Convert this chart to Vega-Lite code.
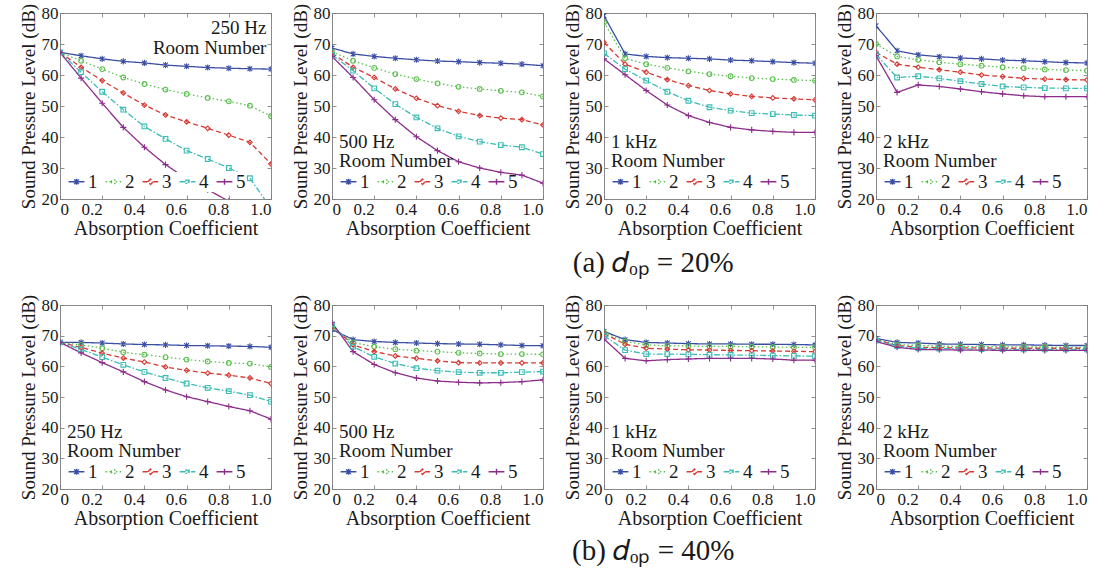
{
  "$schema": "https://vega.github.io/schema/vega-lite/v6.json",
  "background": "white",
  "padding": {"left": 18, "top": 2, "right": 2, "bottom": 2},
  "datasets": {
    "a250": [
      {"room":"1","alpha":0,"spl":67.3},{"room":"1","alpha":0.1,"spl":66.2},{"room":"1","alpha":0.2,"spl":65.2},{"room":"1","alpha":0.3,"spl":64.4},{"room":"1","alpha":0.4,"spl":63.9},{"room":"1","alpha":0.5,"spl":63.2},{"room":"1","alpha":0.6,"spl":62.8},{"room":"1","alpha":0.7,"spl":62.4},{"room":"1","alpha":0.8,"spl":62.2},{"room":"1","alpha":0.9,"spl":62.0},{"room":"1","alpha":1,"spl":61.9},
      {"room":"2","alpha":0,"spl":67.3},{"room":"2","alpha":0.1,"spl":64.6},{"room":"2","alpha":0.2,"spl":61.9},{"room":"2","alpha":0.3,"spl":59.2},{"room":"2","alpha":0.4,"spl":57.1},{"room":"2","alpha":0.5,"spl":55.3},{"room":"2","alpha":0.6,"spl":53.9},{"room":"2","alpha":0.7,"spl":52.6},{"room":"2","alpha":0.8,"spl":51.5},{"room":"2","alpha":0.9,"spl":50.1},{"room":"2","alpha":1,"spl":46.7},
      {"room":"3","alpha":0,"spl":67.3},{"room":"3","alpha":0.1,"spl":62.5},{"room":"3","alpha":0.2,"spl":58.2},{"room":"3","alpha":0.3,"spl":54.2},{"room":"3","alpha":0.4,"spl":50.3},{"room":"3","alpha":0.5,"spl":47.1},{"room":"3","alpha":0.6,"spl":44.9},{"room":"3","alpha":0.7,"spl":42.8},{"room":"3","alpha":0.8,"spl":40.6},{"room":"3","alpha":0.9,"spl":38.3},{"room":"3","alpha":1,"spl":31.3},
      {"room":"4","alpha":0,"spl":67.3},{"room":"4","alpha":0.1,"spl":60.9},{"room":"4","alpha":0.2,"spl":54.6},{"room":"4","alpha":0.3,"spl":48.8},{"room":"4","alpha":0.4,"spl":43.4},{"room":"4","alpha":0.5,"spl":39.4},{"room":"4","alpha":0.6,"spl":35.6},{"room":"4","alpha":0.7,"spl":32.9},{"room":"4","alpha":0.8,"spl":30.0},{"room":"4","alpha":0.9,"spl":26.7},{"room":"4","alpha":1,"spl":17.0},
      {"room":"5","alpha":0,"spl":67.3},{"room":"5","alpha":0.1,"spl":59.0},{"room":"5","alpha":0.2,"spl":50.9},{"room":"5","alpha":0.3,"spl":43.1},{"room":"5","alpha":0.4,"spl":36.7},{"room":"5","alpha":0.5,"spl":31.1},{"room":"5","alpha":0.6,"spl":26.5},{"room":"5","alpha":0.7,"spl":23.0},{"room":"5","alpha":0.8,"spl":19.3}
    ],
    "a500": [
      {"room":"1","alpha":0,"spl":68.7},{"room":"1","alpha":0.1,"spl":66.8},{"room":"1","alpha":0.2,"spl":66.0},{"room":"1","alpha":0.3,"spl":65.4},{"room":"1","alpha":0.4,"spl":64.9},{"room":"1","alpha":0.5,"spl":64.5},{"room":"1","alpha":0.6,"spl":64.3},{"room":"1","alpha":0.7,"spl":64.0},{"room":"1","alpha":0.8,"spl":63.8},{"room":"1","alpha":0.9,"spl":63.5},{"room":"1","alpha":1,"spl":63.0},
      {"room":"2","alpha":0,"spl":67.5},{"room":"2","alpha":0.1,"spl":64.6},{"room":"2","alpha":0.2,"spl":62.3},{"room":"2","alpha":0.3,"spl":60.3},{"room":"2","alpha":0.4,"spl":58.7},{"room":"2","alpha":0.5,"spl":57.3},{"room":"2","alpha":0.6,"spl":56.2},{"room":"2","alpha":0.7,"spl":55.5},{"room":"2","alpha":0.8,"spl":54.9},{"room":"2","alpha":0.9,"spl":54.4},{"room":"2","alpha":1,"spl":53.1},
      {"room":"3","alpha":0,"spl":67.0},{"room":"3","alpha":0.1,"spl":62.5},{"room":"3","alpha":0.2,"spl":59.2},{"room":"3","alpha":0.3,"spl":55.5},{"room":"3","alpha":0.4,"spl":52.5},{"room":"3","alpha":0.5,"spl":50.1},{"room":"3","alpha":0.6,"spl":48.3},{"room":"3","alpha":0.7,"spl":46.9},{"room":"3","alpha":0.8,"spl":46.1},{"room":"3","alpha":0.9,"spl":45.6},{"room":"3","alpha":1,"spl":43.9},
      {"room":"4","alpha":0,"spl":66.5},{"room":"4","alpha":0.1,"spl":61.4},{"room":"4","alpha":0.2,"spl":55.7},{"room":"4","alpha":0.3,"spl":50.6},{"room":"4","alpha":0.4,"spl":46.3},{"room":"4","alpha":0.5,"spl":42.8},{"room":"4","alpha":0.6,"spl":40.2},{"room":"4","alpha":0.7,"spl":38.5},{"room":"4","alpha":0.8,"spl":37.4},{"room":"4","alpha":0.9,"spl":36.7},{"room":"4","alpha":1,"spl":34.5},
      {"room":"5","alpha":0,"spl":66.0},{"room":"5","alpha":0.1,"spl":59.2},{"room":"5","alpha":0.2,"spl":52.0},{"room":"5","alpha":0.3,"spl":45.6},{"room":"5","alpha":0.4,"spl":40.1},{"room":"5","alpha":0.5,"spl":35.6},{"room":"5","alpha":0.6,"spl":32.0},{"room":"5","alpha":0.7,"spl":30.0},{"room":"5","alpha":0.8,"spl":28.6},{"room":"5","alpha":0.9,"spl":27.7},{"room":"5","alpha":1,"spl":25.1}
    ],
    "a1k": [
      {"room":"1","alpha":0,"spl":79.1},{"room":"1","alpha":0.1,"spl":66.8},{"room":"1","alpha":0.2,"spl":66.0},{"room":"1","alpha":0.3,"spl":65.6},{"room":"1","alpha":0.4,"spl":65.4},{"room":"1","alpha":0.5,"spl":65.2},{"room":"1","alpha":0.6,"spl":64.8},{"room":"1","alpha":0.7,"spl":64.6},{"room":"1","alpha":0.8,"spl":64.3},{"room":"1","alpha":0.9,"spl":64.0},{"room":"1","alpha":1,"spl":63.8},
      {"room":"2","alpha":0,"spl":77.0},{"room":"2","alpha":0.1,"spl":65.4},{"room":"2","alpha":0.2,"spl":63.5},{"room":"2","alpha":0.3,"spl":62.3},{"room":"2","alpha":0.4,"spl":61.2},{"room":"2","alpha":0.5,"spl":60.3},{"room":"2","alpha":0.6,"spl":59.6},{"room":"2","alpha":0.7,"spl":59.0},{"room":"2","alpha":0.8,"spl":58.7},{"room":"2","alpha":0.9,"spl":58.4},{"room":"2","alpha":1,"spl":58.2},
      {"room":"3","alpha":0,"spl":70.5},{"room":"3","alpha":0.1,"spl":63.5},{"room":"3","alpha":0.2,"spl":60.9},{"room":"3","alpha":0.3,"spl":58.5},{"room":"3","alpha":0.4,"spl":56.6},{"room":"3","alpha":0.5,"spl":55.0},{"room":"3","alpha":0.6,"spl":53.9},{"room":"3","alpha":0.7,"spl":53.1},{"room":"3","alpha":0.8,"spl":52.6},{"room":"3","alpha":0.9,"spl":52.3},{"room":"3","alpha":1,"spl":52.0},
      {"room":"4","alpha":0,"spl":67.0},{"room":"4","alpha":0.1,"spl":61.9},{"room":"4","alpha":0.2,"spl":58.2},{"room":"4","alpha":0.3,"spl":54.6},{"room":"4","alpha":0.4,"spl":51.7},{"room":"4","alpha":0.5,"spl":49.6},{"room":"4","alpha":0.6,"spl":48.5},{"room":"4","alpha":0.7,"spl":47.7},{"room":"4","alpha":0.8,"spl":47.4},{"room":"4","alpha":0.9,"spl":47.1},{"room":"4","alpha":1,"spl":46.9},
      {"room":"5","alpha":0,"spl":65.2},{"room":"5","alpha":0.1,"spl":60.1},{"room":"5","alpha":0.2,"spl":55.0},{"room":"5","alpha":0.3,"spl":50.3},{"room":"5","alpha":0.4,"spl":46.9},{"room":"5","alpha":0.5,"spl":44.7},{"room":"5","alpha":0.6,"spl":43.1},{"room":"5","alpha":0.7,"spl":42.3},{"room":"5","alpha":0.8,"spl":41.8},{"room":"5","alpha":0.9,"spl":41.5},{"room":"5","alpha":1,"spl":41.5}
    ],
    "a2k": [
      {"room":"1","alpha":0,"spl":75.9},{"room":"1","alpha":0.1,"spl":67.8},{"room":"1","alpha":0.2,"spl":66.5},{"room":"1","alpha":0.3,"spl":65.9},{"room":"1","alpha":0.4,"spl":65.5},{"room":"1","alpha":0.5,"spl":65.2},{"room":"1","alpha":0.6,"spl":64.8},{"room":"1","alpha":0.7,"spl":64.6},{"room":"1","alpha":0.8,"spl":64.3},{"room":"1","alpha":0.9,"spl":64.0},{"room":"1","alpha":1,"spl":63.9},
      {"room":"2","alpha":0,"spl":70.0},{"room":"2","alpha":0.1,"spl":66.0},{"room":"2","alpha":0.2,"spl":64.9},{"room":"2","alpha":0.3,"spl":64.1},{"room":"2","alpha":0.4,"spl":63.5},{"room":"2","alpha":0.5,"spl":63.0},{"room":"2","alpha":0.6,"spl":62.5},{"room":"2","alpha":0.7,"spl":62.2},{"room":"2","alpha":0.8,"spl":61.8},{"room":"2","alpha":0.9,"spl":61.6},{"room":"2","alpha":1,"spl":61.4},
      {"room":"3","alpha":0,"spl":67.3},{"room":"3","alpha":0.1,"spl":63.5},{"room":"3","alpha":0.2,"spl":62.5},{"room":"3","alpha":0.3,"spl":61.7},{"room":"3","alpha":0.4,"spl":60.9},{"room":"3","alpha":0.5,"spl":60.0},{"room":"3","alpha":0.6,"spl":59.5},{"room":"3","alpha":0.7,"spl":58.9},{"room":"3","alpha":0.8,"spl":58.7},{"room":"3","alpha":0.9,"spl":58.5},{"room":"3","alpha":1,"spl":58.4},
      {"room":"4","alpha":0,"spl":66.6},{"room":"4","alpha":0.1,"spl":59.2},{"room":"4","alpha":0.2,"spl":59.6},{"room":"4","alpha":0.3,"spl":58.9},{"room":"4","alpha":0.4,"spl":58.0},{"room":"4","alpha":0.5,"spl":57.1},{"room":"4","alpha":0.6,"spl":56.3},{"room":"4","alpha":0.7,"spl":56.0},{"room":"4","alpha":0.8,"spl":55.8},{"room":"4","alpha":0.9,"spl":55.7},{"room":"4","alpha":1,"spl":55.7},
      {"room":"5","alpha":0,"spl":66.2},{"room":"5","alpha":0.1,"spl":54.4},{"room":"5","alpha":0.2,"spl":56.8},{"room":"5","alpha":0.3,"spl":56.3},{"room":"5","alpha":0.4,"spl":55.5},{"room":"5","alpha":0.5,"spl":54.6},{"room":"5","alpha":0.6,"spl":53.9},{"room":"5","alpha":0.7,"spl":53.3},{"room":"5","alpha":0.8,"spl":53.0},{"room":"5","alpha":0.9,"spl":53.0},{"room":"5","alpha":1,"spl":53.0}
    ],
    "b250": [
      {"room":"1","alpha":0,"spl":67.8},{"room":"1","alpha":0.1,"spl":67.8},{"room":"1","alpha":0.2,"spl":67.6},{"room":"1","alpha":0.3,"spl":67.3},{"room":"1","alpha":0.4,"spl":67.1},{"room":"1","alpha":0.5,"spl":67.0},{"room":"1","alpha":0.6,"spl":66.8},{"room":"1","alpha":0.7,"spl":66.7},{"room":"1","alpha":0.8,"spl":66.6},{"room":"1","alpha":0.9,"spl":66.5},{"room":"1","alpha":1,"spl":66.2},
      {"room":"2","alpha":0,"spl":67.8},{"room":"2","alpha":0.1,"spl":67.0},{"room":"2","alpha":0.2,"spl":65.9},{"room":"2","alpha":0.3,"spl":64.6},{"room":"2","alpha":0.4,"spl":63.8},{"room":"2","alpha":0.5,"spl":63.0},{"room":"2","alpha":0.6,"spl":62.2},{"room":"2","alpha":0.7,"spl":61.6},{"room":"2","alpha":0.8,"spl":61.1},{"room":"2","alpha":0.9,"spl":60.9},{"room":"2","alpha":1,"spl":59.8},
      {"room":"3","alpha":0,"spl":67.8},{"room":"3","alpha":0.1,"spl":66.2},{"room":"3","alpha":0.2,"spl":64.3},{"room":"3","alpha":0.3,"spl":62.7},{"room":"3","alpha":0.4,"spl":61.4},{"room":"3","alpha":0.5,"spl":59.8},{"room":"3","alpha":0.6,"spl":58.7},{"room":"3","alpha":0.7,"spl":57.8},{"room":"3","alpha":0.8,"spl":57.1},{"room":"3","alpha":0.9,"spl":56.2},{"room":"3","alpha":1,"spl":54.4},
      {"room":"4","alpha":0,"spl":67.8},{"room":"4","alpha":0.1,"spl":65.5},{"room":"4","alpha":0.2,"spl":63.0},{"room":"4","alpha":0.3,"spl":60.5},{"room":"4","alpha":0.4,"spl":58.2},{"room":"4","alpha":0.5,"spl":56.2},{"room":"4","alpha":0.6,"spl":54.4},{"room":"4","alpha":0.7,"spl":53.0},{"room":"4","alpha":0.8,"spl":51.9},{"room":"4","alpha":0.9,"spl":50.6},{"room":"4","alpha":1,"spl":48.5},
      {"room":"5","alpha":0,"spl":67.8},{"room":"5","alpha":0.1,"spl":64.4},{"room":"5","alpha":0.2,"spl":61.2},{"room":"5","alpha":0.3,"spl":58.2},{"room":"5","alpha":0.4,"spl":55.0},{"room":"5","alpha":0.5,"spl":52.3},{"room":"5","alpha":0.6,"spl":50.1},{"room":"5","alpha":0.7,"spl":48.5},{"room":"5","alpha":0.8,"spl":46.9},{"room":"5","alpha":0.9,"spl":45.5},{"room":"5","alpha":1,"spl":42.8}
    ],
    "b500": [
      {"room":"1","alpha":0,"spl":72.0},{"room":"1","alpha":0.1,"spl":68.7},{"room":"1","alpha":0.2,"spl":68.1},{"room":"1","alpha":0.3,"spl":67.8},{"room":"1","alpha":0.4,"spl":67.6},{"room":"1","alpha":0.5,"spl":67.4},{"room":"1","alpha":0.6,"spl":67.3},{"room":"1","alpha":0.7,"spl":67.2},{"room":"1","alpha":0.8,"spl":67.0},{"room":"1","alpha":0.9,"spl":66.8},{"room":"1","alpha":1,"spl":66.7},
      {"room":"2","alpha":0,"spl":72.6},{"room":"2","alpha":0.1,"spl":67.8},{"room":"2","alpha":0.2,"spl":66.4},{"room":"2","alpha":0.3,"spl":65.6},{"room":"2","alpha":0.4,"spl":65.1},{"room":"2","alpha":0.5,"spl":64.8},{"room":"2","alpha":0.6,"spl":64.4},{"room":"2","alpha":0.7,"spl":64.2},{"room":"2","alpha":0.8,"spl":64.0},{"room":"2","alpha":0.9,"spl":64.0},{"room":"2","alpha":1,"spl":63.9},
      {"room":"3","alpha":0,"spl":73.1},{"room":"3","alpha":0.1,"spl":67.0},{"room":"3","alpha":0.2,"spl":64.8},{"room":"3","alpha":0.3,"spl":63.4},{"room":"3","alpha":0.4,"spl":62.6},{"room":"3","alpha":0.5,"spl":61.8},{"room":"3","alpha":0.6,"spl":61.2},{"room":"3","alpha":0.7,"spl":61.1},{"room":"3","alpha":0.8,"spl":61.1},{"room":"3","alpha":0.9,"spl":61.1},{"room":"3","alpha":1,"spl":61.1},
      {"room":"4","alpha":0,"spl":73.7},{"room":"4","alpha":0.1,"spl":66.4},{"room":"4","alpha":0.2,"spl":63.1},{"room":"4","alpha":0.3,"spl":60.9},{"room":"4","alpha":0.4,"spl":59.4},{"room":"4","alpha":0.5,"spl":58.6},{"room":"4","alpha":0.6,"spl":58.1},{"room":"4","alpha":0.7,"spl":57.9},{"room":"4","alpha":0.8,"spl":57.9},{"room":"4","alpha":0.9,"spl":58.1},{"room":"4","alpha":1,"spl":58.3},
      {"room":"5","alpha":0,"spl":74.2},{"room":"5","alpha":0.1,"spl":64.8},{"room":"5","alpha":0.2,"spl":60.6},{"room":"5","alpha":0.3,"spl":57.9},{"room":"5","alpha":0.4,"spl":56.2},{"room":"5","alpha":0.5,"spl":55.2},{"room":"5","alpha":0.6,"spl":54.8},{"room":"5","alpha":0.7,"spl":54.6},{"room":"5","alpha":0.8,"spl":54.7},{"room":"5","alpha":0.9,"spl":55.0},{"room":"5","alpha":1,"spl":55.6}
    ],
    "b1k": [
      {"room":"1","alpha":0,"spl":71.4},{"room":"1","alpha":0.1,"spl":68.7},{"room":"1","alpha":0.2,"spl":67.8},{"room":"1","alpha":0.3,"spl":67.6},{"room":"1","alpha":0.4,"spl":67.4},{"room":"1","alpha":0.5,"spl":67.3},{"room":"1","alpha":0.6,"spl":67.3},{"room":"1","alpha":0.7,"spl":67.2},{"room":"1","alpha":0.8,"spl":67.2},{"room":"1","alpha":0.9,"spl":67.1},{"room":"1","alpha":1,"spl":67.0},
      {"room":"2","alpha":0,"spl":71.1},{"room":"2","alpha":0.1,"spl":68.1},{"room":"2","alpha":0.2,"spl":67.0},{"room":"2","alpha":0.3,"spl":66.7},{"room":"2","alpha":0.4,"spl":66.6},{"room":"2","alpha":0.5,"spl":66.5},{"room":"2","alpha":0.6,"spl":66.5},{"room":"2","alpha":0.7,"spl":66.4},{"room":"2","alpha":0.8,"spl":66.3},{"room":"2","alpha":0.9,"spl":66.2},{"room":"2","alpha":1,"spl":66.2},
      {"room":"3","alpha":0,"spl":70.7},{"room":"3","alpha":0.1,"spl":67.2},{"room":"3","alpha":0.2,"spl":65.9},{"room":"3","alpha":0.3,"spl":65.6},{"room":"3","alpha":0.4,"spl":65.4},{"room":"3","alpha":0.5,"spl":65.3},{"room":"3","alpha":0.6,"spl":65.2},{"room":"3","alpha":0.7,"spl":65.1},{"room":"3","alpha":0.8,"spl":65.0},{"room":"3","alpha":0.9,"spl":64.9},{"room":"3","alpha":1,"spl":64.8},
      {"room":"4","alpha":0,"spl":70.0},{"room":"4","alpha":0.1,"spl":65.3},{"room":"4","alpha":0.2,"spl":64.0},{"room":"4","alpha":0.3,"spl":64.0},{"room":"4","alpha":0.4,"spl":63.9},{"room":"4","alpha":0.5,"spl":63.8},{"room":"4","alpha":0.6,"spl":63.7},{"room":"4","alpha":0.7,"spl":63.6},{"room":"4","alpha":0.8,"spl":63.5},{"room":"4","alpha":0.9,"spl":63.4},{"room":"4","alpha":1,"spl":63.3},
      {"room":"5","alpha":0,"spl":68.9},{"room":"5","alpha":0.1,"spl":62.6},{"room":"5","alpha":0.2,"spl":61.8},{"room":"5","alpha":0.3,"spl":62.2},{"room":"5","alpha":0.4,"spl":62.4},{"room":"5","alpha":0.5,"spl":62.6},{"room":"5","alpha":0.6,"spl":62.6},{"room":"5","alpha":0.7,"spl":62.6},{"room":"5","alpha":0.8,"spl":62.4},{"room":"5","alpha":0.9,"spl":62.0},{"room":"5","alpha":1,"spl":62.0}
    ],
    "b2k": [
      {"room":"1","alpha":0,"spl":69.1},{"room":"1","alpha":0.1,"spl":67.8},{"room":"1","alpha":0.2,"spl":67.6},{"room":"1","alpha":0.3,"spl":67.3},{"room":"1","alpha":0.4,"spl":67.2},{"room":"1","alpha":0.5,"spl":67.1},{"room":"1","alpha":0.6,"spl":67.0},{"room":"1","alpha":0.7,"spl":67.0},{"room":"1","alpha":0.8,"spl":66.9},{"room":"1","alpha":0.9,"spl":66.8},{"room":"1","alpha":1,"spl":66.8},
      {"room":"2","alpha":0,"spl":68.7},{"room":"2","alpha":0.1,"spl":67.1},{"room":"2","alpha":0.2,"spl":66.8},{"room":"2","alpha":0.3,"spl":66.6},{"room":"2","alpha":0.4,"spl":66.5},{"room":"2","alpha":0.5,"spl":66.4},{"room":"2","alpha":0.6,"spl":66.4},{"room":"2","alpha":0.7,"spl":66.3},{"room":"2","alpha":0.8,"spl":66.3},{"room":"2","alpha":0.9,"spl":66.2},{"room":"2","alpha":1,"spl":66.2},
      {"room":"3","alpha":0,"spl":68.6},{"room":"3","alpha":0.1,"spl":66.8},{"room":"3","alpha":0.2,"spl":66.2},{"room":"3","alpha":0.3,"spl":66.1},{"room":"3","alpha":0.4,"spl":66.0},{"room":"3","alpha":0.5,"spl":66.0},{"room":"3","alpha":0.6,"spl":65.9},{"room":"3","alpha":0.7,"spl":65.9},{"room":"3","alpha":0.8,"spl":65.9},{"room":"3","alpha":0.9,"spl":65.9},{"room":"3","alpha":1,"spl":65.9},
      {"room":"4","alpha":0,"spl":68.4},{"room":"4","alpha":0.1,"spl":66.6},{"room":"4","alpha":0.2,"spl":65.9},{"room":"4","alpha":0.3,"spl":65.8},{"room":"4","alpha":0.4,"spl":65.7},{"room":"4","alpha":0.5,"spl":65.6},{"room":"4","alpha":0.6,"spl":65.6},{"room":"4","alpha":0.7,"spl":65.5},{"room":"4","alpha":0.8,"spl":65.5},{"room":"4","alpha":0.9,"spl":65.5},{"room":"4","alpha":1,"spl":65.5},
      {"room":"5","alpha":0,"spl":68.1},{"room":"5","alpha":0.1,"spl":66.2},{"room":"5","alpha":0.2,"spl":65.5},{"room":"5","alpha":0.3,"spl":65.4},{"room":"5","alpha":0.4,"spl":65.3},{"room":"5","alpha":0.5,"spl":65.3},{"room":"5","alpha":0.6,"spl":65.2},{"room":"5","alpha":0.7,"spl":65.2},{"room":"5","alpha":0.8,"spl":65.2},{"room":"5","alpha":0.9,"spl":65.2},{"room":"5","alpha":1,"spl":65.2}
    ]
  },
  "vconcat": [
    {
      "title": {"text": "(a) 𝑑ₒₚ = 20%", "orient": "bottom", "anchor": "middle", "dx": 100, "offset": 10, "font": "Liberation Serif", "fontSize": 29, "fontWeight": "normal"},
      "hconcat": [
        {
          "width": 211, "height": 186,
          "data": {"name": "a250"},
          "title": {"text": ["250 Hz", "Room  Number"], "orient": "top", "anchor": "end", "align": "right", "offset": -55, "dx": -5, "font": "Liberation Serif", "fontSize": 19, "fontWeight": "normal", "lineHeight": 20},
          "layer": [
            {"mark": {"type": "line", "strokeWidth": 1.3, "clip": true},
             "encoding": {
               "x": {"field": "alpha", "type": "quantitative", "scale": {"domain": [0, 1], "nice": false}, "title": "Absorption Coefficient", "axis": {"values": [0, 0.2, 0.4, 0.6, 0.8, 1], "labelExpr": "datum.value == 0 ? '0' : format(datum.value, '.1f')", "labelAlign": {"condition": {"test": "datum.value == 0", "value": "left"}, "value": "right"}}},
               "y": {"field": "spl", "type": "quantitative", "scale": {"domain": [20, 80], "nice": false}, "title": "Sound Pressure Level (dB)", "axis": {"values": [20, 30, 40, 50, 60, 70, 80]}},
               "color": {"field": "room", "type": "nominal", "scale": {"domain": ["1", "2", "3", "4", "5"], "range": ["#3b4ea3", "#5cbf4f", "#d63b35", "#3cbcb4", "#8c2d8c"]},
                 "legend": {"title": null, "fillColor": "white", "encode": {"symbols": {"update": {
                   "shape": {"signal": "datum.value == '1' ? 'M-1,0H1M-0.3,-0.3L0.3,0.3M-0.3,0.3L0.3,-0.3M0,-0.38V0.38' : datum.value == '2' ? 'M-1,0H-0.28M0.28,0H1M-0.28,0A0.28,0.28,0,1,1,0.28,0A0.28,0.28,0,1,1,-0.28,0' : datum.value == '3' ? 'M-1,0H-0.34M0.34,0H1M-0.34,0L0,-0.34L0.34,0L0,0.34Z' : datum.value == '4' ? 'M-1,0H1M-0.2,-0.2H0.2V0.2H-0.2Z' : 'M-1,0H1M0,-0.38V0.38'"},
                   "strokeDash": {"signal": "datum.value == '2' ? [1.5, 2.5] : datum.value == '3' ? [5, 3] : datum.value == '4' ? [6, 2, 1.5, 2] : [1, 0]"},
                   "fill": {"value": "transparent"}}}}}},
               "strokeDash": {"field": "room", "type": "nominal", "scale": {"range": [[1, 0], [1.5, 2.5], [5, 3], [6, 2, 1.5, 2], [1, 0]]}, "legend": null}
             }},
            {"mark": {"type": "point", "filled": false, "size": 22, "strokeWidth": 1.1, "opacity": 1, "clip": true},
             "encoding": {
               "x": {"field": "alpha", "type": "quantitative", "scale": {"domain": [0, 1], "nice": false}, "axis": {"orient": "top", "labels": false, "title": null, "values": [0, 0.2, 0.4, 0.6, 0.8, 1]}},
               "y": {"field": "spl", "type": "quantitative", "scale": {"domain": [20, 80], "nice": false}, "axis": {"orient": "right", "labels": false, "title": null, "values": [20, 30, 40, 50, 60, 70, 80]}},
               "color": {"field": "room", "type": "nominal"},
               "shape": {"field": "room", "type": "nominal", "scale": {"range": ["M-1,-1L1,1M-1,1L1,-1M0,-1.3V1.3", "circle", "diamond", "square", "M-1.3,0H1.3M0,-1.3V1.3"]}, "legend": null}
             }}
          ],
          "resolve": {"axis": {"x": "independent", "y": "independent"}}
        },
        {
          "width": 211, "height": 186,
          "data": {"name": "a500"},
          "layer": [
            {"mark": {"type": "line", "strokeWidth": 1.3, "clip": true},
             "encoding": {
               "x": {"field": "alpha", "type": "quantitative", "scale": {"domain": [0, 1], "nice": false}, "title": "Absorption Coefficient", "axis": {"values": [0, 0.2, 0.4, 0.6, 0.8, 1], "labelExpr": "datum.value == 0 ? '0' : format(datum.value, '.1f')", "labelAlign": {"condition": {"test": "datum.value == 0", "value": "left"}, "value": "right"}}},
               "y": {"field": "spl", "type": "quantitative", "scale": {"domain": [20, 80], "nice": false}, "title": "Sound Pressure Level (dB)", "axis": {"values": [20, 30, 40, 50, 60, 70, 80]}},
               "color": {"field": "room", "type": "nominal", "scale": {"domain": ["1", "2", "3", "4", "5"], "range": ["#3b4ea3", "#5cbf4f", "#d63b35", "#3cbcb4", "#8c2d8c"]},
                 "legend": {"title": ["500 Hz", "Room  Number"], "encode": {"symbols": {"update": {
                   "shape": {"signal": "datum.value == '1' ? 'M-1,0H1M-0.3,-0.3L0.3,0.3M-0.3,0.3L0.3,-0.3M0,-0.38V0.38' : datum.value == '2' ? 'M-1,0H-0.28M0.28,0H1M-0.28,0A0.28,0.28,0,1,1,0.28,0A0.28,0.28,0,1,1,-0.28,0' : datum.value == '3' ? 'M-1,0H-0.34M0.34,0H1M-0.34,0L0,-0.34L0.34,0L0,0.34Z' : datum.value == '4' ? 'M-1,0H1M-0.2,-0.2H0.2V0.2H-0.2Z' : 'M-1,0H1M0,-0.38V0.38'"},
                   "strokeDash": {"signal": "datum.value == '2' ? [1.5, 2.5] : datum.value == '3' ? [5, 3] : datum.value == '4' ? [6, 2, 1.5, 2] : [1, 0]"},
                   "fill": {"value": "transparent"}}}}}},
               "strokeDash": {"field": "room", "type": "nominal", "scale": {"range": [[1, 0], [1.5, 2.5], [5, 3], [6, 2, 1.5, 2], [1, 0]]}, "legend": null}
             }},
            {"mark": {"type": "point", "filled": false, "size": 22, "strokeWidth": 1.1, "opacity": 1, "clip": true},
             "encoding": {
               "x": {"field": "alpha", "type": "quantitative", "scale": {"domain": [0, 1], "nice": false}, "axis": {"orient": "top", "labels": false, "title": null, "values": [0, 0.2, 0.4, 0.6, 0.8, 1]}},
               "y": {"field": "spl", "type": "quantitative", "scale": {"domain": [20, 80], "nice": false}, "axis": {"orient": "right", "labels": false, "title": null, "values": [20, 30, 40, 50, 60, 70, 80]}},
               "color": {"field": "room", "type": "nominal"},
               "shape": {"field": "room", "type": "nominal", "scale": {"range": ["M-1,-1L1,1M-1,1L1,-1M0,-1.3V1.3", "circle", "diamond", "square", "M-1.3,0H1.3M0,-1.3V1.3"]}, "legend": null}
             }}
          ],
          "resolve": {"axis": {"x": "independent", "y": "independent"}}
        },
        {
          "width": 211, "height": 186,
          "data": {"name": "a1k"},
          "layer": [
            {"mark": {"type": "line", "strokeWidth": 1.3, "clip": true},
             "encoding": {
               "x": {"field": "alpha", "type": "quantitative", "scale": {"domain": [0, 1], "nice": false}, "title": "Absorption Coefficient", "axis": {"values": [0, 0.2, 0.4, 0.6, 0.8, 1], "labelExpr": "datum.value == 0 ? '0' : format(datum.value, '.1f')", "labelAlign": {"condition": {"test": "datum.value == 0", "value": "left"}, "value": "right"}}},
               "y": {"field": "spl", "type": "quantitative", "scale": {"domain": [20, 80], "nice": false}, "title": "Sound Pressure Level (dB)", "axis": {"values": [20, 30, 40, 50, 60, 70, 80]}},
               "color": {"field": "room", "type": "nominal", "scale": {"domain": ["1", "2", "3", "4", "5"], "range": ["#3b4ea3", "#5cbf4f", "#d63b35", "#3cbcb4", "#8c2d8c"]},
                 "legend": {"title": ["1 kHz", "Room  Number"], "encode": {"symbols": {"update": {
                   "shape": {"signal": "datum.value == '1' ? 'M-1,0H1M-0.3,-0.3L0.3,0.3M-0.3,0.3L0.3,-0.3M0,-0.38V0.38' : datum.value == '2' ? 'M-1,0H-0.28M0.28,0H1M-0.28,0A0.28,0.28,0,1,1,0.28,0A0.28,0.28,0,1,1,-0.28,0' : datum.value == '3' ? 'M-1,0H-0.34M0.34,0H1M-0.34,0L0,-0.34L0.34,0L0,0.34Z' : datum.value == '4' ? 'M-1,0H1M-0.2,-0.2H0.2V0.2H-0.2Z' : 'M-1,0H1M0,-0.38V0.38'"},
                   "strokeDash": {"signal": "datum.value == '2' ? [1.5, 2.5] : datum.value == '3' ? [5, 3] : datum.value == '4' ? [6, 2, 1.5, 2] : [1, 0]"},
                   "fill": {"value": "transparent"}}}}}},
               "strokeDash": {"field": "room", "type": "nominal", "scale": {"range": [[1, 0], [1.5, 2.5], [5, 3], [6, 2, 1.5, 2], [1, 0]]}, "legend": null}
             }},
            {"mark": {"type": "point", "filled": false, "size": 22, "strokeWidth": 1.1, "opacity": 1, "clip": true},
             "encoding": {
               "x": {"field": "alpha", "type": "quantitative", "scale": {"domain": [0, 1], "nice": false}, "axis": {"orient": "top", "labels": false, "title": null, "values": [0, 0.2, 0.4, 0.6, 0.8, 1]}},
               "y": {"field": "spl", "type": "quantitative", "scale": {"domain": [20, 80], "nice": false}, "axis": {"orient": "right", "labels": false, "title": null, "values": [20, 30, 40, 50, 60, 70, 80]}},
               "color": {"field": "room", "type": "nominal"},
               "shape": {"field": "room", "type": "nominal", "scale": {"range": ["M-1,-1L1,1M-1,1L1,-1M0,-1.3V1.3", "circle", "diamond", "square", "M-1.3,0H1.3M0,-1.3V1.3"]}, "legend": null}
             }}
          ],
          "resolve": {"axis": {"x": "independent", "y": "independent"}}
        },
        {
          "width": 211, "height": 186,
          "data": {"name": "a2k"},
          "layer": [
            {"mark": {"type": "line", "strokeWidth": 1.3, "clip": true},
             "encoding": {
               "x": {"field": "alpha", "type": "quantitative", "scale": {"domain": [0, 1], "nice": false}, "title": "Absorption Coefficient", "axis": {"values": [0, 0.2, 0.4, 0.6, 0.8, 1], "labelExpr": "datum.value == 0 ? '0' : format(datum.value, '.1f')", "labelAlign": {"condition": {"test": "datum.value == 0", "value": "left"}, "value": "right"}}},
               "y": {"field": "spl", "type": "quantitative", "scale": {"domain": [20, 80], "nice": false}, "title": "Sound Pressure Level (dB)", "axis": {"values": [20, 30, 40, 50, 60, 70, 80]}},
               "color": {"field": "room", "type": "nominal", "scale": {"domain": ["1", "2", "3", "4", "5"], "range": ["#3b4ea3", "#5cbf4f", "#d63b35", "#3cbcb4", "#8c2d8c"]},
                 "legend": {"title": ["2 kHz", "Room  Number"], "encode": {"symbols": {"update": {
                   "shape": {"signal": "datum.value == '1' ? 'M-1,0H1M-0.3,-0.3L0.3,0.3M-0.3,0.3L0.3,-0.3M0,-0.38V0.38' : datum.value == '2' ? 'M-1,0H-0.28M0.28,0H1M-0.28,0A0.28,0.28,0,1,1,0.28,0A0.28,0.28,0,1,1,-0.28,0' : datum.value == '3' ? 'M-1,0H-0.34M0.34,0H1M-0.34,0L0,-0.34L0.34,0L0,0.34Z' : datum.value == '4' ? 'M-1,0H1M-0.2,-0.2H0.2V0.2H-0.2Z' : 'M-1,0H1M0,-0.38V0.38'"},
                   "strokeDash": {"signal": "datum.value == '2' ? [1.5, 2.5] : datum.value == '3' ? [5, 3] : datum.value == '4' ? [6, 2, 1.5, 2] : [1, 0]"},
                   "fill": {"value": "transparent"}}}}}},
               "strokeDash": {"field": "room", "type": "nominal", "scale": {"range": [[1, 0], [1.5, 2.5], [5, 3], [6, 2, 1.5, 2], [1, 0]]}, "legend": null}
             }},
            {"mark": {"type": "point", "filled": false, "size": 22, "strokeWidth": 1.1, "opacity": 1, "clip": true},
             "encoding": {
               "x": {"field": "alpha", "type": "quantitative", "scale": {"domain": [0, 1], "nice": false}, "axis": {"orient": "top", "labels": false, "title": null, "values": [0, 0.2, 0.4, 0.6, 0.8, 1]}},
               "y": {"field": "spl", "type": "quantitative", "scale": {"domain": [20, 80], "nice": false}, "axis": {"orient": "right", "labels": false, "title": null, "values": [20, 30, 40, 50, 60, 70, 80]}},
               "color": {"field": "room", "type": "nominal"},
               "shape": {"field": "room", "type": "nominal", "scale": {"range": ["M-1,-1L1,1M-1,1L1,-1M0,-1.3V1.3", "circle", "diamond", "square", "M-1.3,0H1.3M0,-1.3V1.3"]}, "legend": null}
             }}
          ],
          "resolve": {"axis": {"x": "independent", "y": "independent"}}
        }
      ],
      "spacing": 18,
      "resolve": {"scale": {"x": "independent", "y": "independent", "color": "independent", "shape": "independent", "strokeDash": "independent"}, "legend": {"color": "independent", "shape": "independent", "strokeDash": "independent"}}
    },
    {
      "title": {"text": "(b) 𝑑ₒₚ = 40%", "orient": "bottom", "anchor": "middle", "dx": 100, "offset": 8, "font": "Liberation Serif", "fontSize": 29, "fontWeight": "normal"},
      "hconcat": [
        {
          "width": 211, "height": 184,
          "data": {"name": "b250"},
          "layer": [
            {"mark": {"type": "line", "strokeWidth": 1.3, "clip": true},
             "encoding": {
               "x": {"field": "alpha", "type": "quantitative", "scale": {"domain": [0, 1], "nice": false}, "title": "Absorption Coefficient", "axis": {"values": [0, 0.2, 0.4, 0.6, 0.8, 1], "labelExpr": "datum.value == 0 ? '0' : format(datum.value, '.1f')", "labelAlign": {"condition": {"test": "datum.value == 0", "value": "left"}, "value": "right"}}},
               "y": {"field": "spl", "type": "quantitative", "scale": {"domain": [20, 80], "nice": false}, "title": "Sound Pressure Level (dB)", "axis": {"values": [20, 30, 40, 50, 60, 70, 80]}},
               "color": {"field": "room", "type": "nominal", "scale": {"domain": ["1", "2", "3", "4", "5"], "range": ["#3b4ea3", "#5cbf4f", "#d63b35", "#3cbcb4", "#8c2d8c"]},
                 "legend": {"title": ["250 Hz", "Room  Number"], "encode": {"symbols": {"update": {
                   "shape": {"signal": "datum.value == '1' ? 'M-1,0H1M-0.3,-0.3L0.3,0.3M-0.3,0.3L0.3,-0.3M0,-0.38V0.38' : datum.value == '2' ? 'M-1,0H-0.28M0.28,0H1M-0.28,0A0.28,0.28,0,1,1,0.28,0A0.28,0.28,0,1,1,-0.28,0' : datum.value == '3' ? 'M-1,0H-0.34M0.34,0H1M-0.34,0L0,-0.34L0.34,0L0,0.34Z' : datum.value == '4' ? 'M-1,0H1M-0.2,-0.2H0.2V0.2H-0.2Z' : 'M-1,0H1M0,-0.38V0.38'"},
                   "strokeDash": {"signal": "datum.value == '2' ? [1.5, 2.5] : datum.value == '3' ? [5, 3] : datum.value == '4' ? [6, 2, 1.5, 2] : [1, 0]"},
                   "fill": {"value": "transparent"}}}}}},
               "strokeDash": {"field": "room", "type": "nominal", "scale": {"range": [[1, 0], [1.5, 2.5], [5, 3], [6, 2, 1.5, 2], [1, 0]]}, "legend": null}
             }},
            {"mark": {"type": "point", "filled": false, "size": 22, "strokeWidth": 1.1, "opacity": 1, "clip": true},
             "encoding": {
               "x": {"field": "alpha", "type": "quantitative", "scale": {"domain": [0, 1], "nice": false}, "axis": {"orient": "top", "labels": false, "title": null, "values": [0, 0.2, 0.4, 0.6, 0.8, 1]}},
               "y": {"field": "spl", "type": "quantitative", "scale": {"domain": [20, 80], "nice": false}, "axis": {"orient": "right", "labels": false, "title": null, "values": [20, 30, 40, 50, 60, 70, 80]}},
               "color": {"field": "room", "type": "nominal"},
               "shape": {"field": "room", "type": "nominal", "scale": {"range": ["M-1,-1L1,1M-1,1L1,-1M0,-1.3V1.3", "circle", "diamond", "square", "M-1.3,0H1.3M0,-1.3V1.3"]}, "legend": null}
             }}
          ],
          "resolve": {"axis": {"x": "independent", "y": "independent"}}
        },
        {
          "width": 211, "height": 184,
          "data": {"name": "b500"},
          "layer": [
            {"mark": {"type": "line", "strokeWidth": 1.3, "clip": true},
             "encoding": {
               "x": {"field": "alpha", "type": "quantitative", "scale": {"domain": [0, 1], "nice": false}, "title": "Absorption Coefficient", "axis": {"values": [0, 0.2, 0.4, 0.6, 0.8, 1], "labelExpr": "datum.value == 0 ? '0' : format(datum.value, '.1f')", "labelAlign": {"condition": {"test": "datum.value == 0", "value": "left"}, "value": "right"}}},
               "y": {"field": "spl", "type": "quantitative", "scale": {"domain": [20, 80], "nice": false}, "title": "Sound Pressure Level (dB)", "axis": {"values": [20, 30, 40, 50, 60, 70, 80]}},
               "color": {"field": "room", "type": "nominal", "scale": {"domain": ["1", "2", "3", "4", "5"], "range": ["#3b4ea3", "#5cbf4f", "#d63b35", "#3cbcb4", "#8c2d8c"]},
                 "legend": {"title": ["500 Hz", "Room  Number"], "encode": {"symbols": {"update": {
                   "shape": {"signal": "datum.value == '1' ? 'M-1,0H1M-0.3,-0.3L0.3,0.3M-0.3,0.3L0.3,-0.3M0,-0.38V0.38' : datum.value == '2' ? 'M-1,0H-0.28M0.28,0H1M-0.28,0A0.28,0.28,0,1,1,0.28,0A0.28,0.28,0,1,1,-0.28,0' : datum.value == '3' ? 'M-1,0H-0.34M0.34,0H1M-0.34,0L0,-0.34L0.34,0L0,0.34Z' : datum.value == '4' ? 'M-1,0H1M-0.2,-0.2H0.2V0.2H-0.2Z' : 'M-1,0H1M0,-0.38V0.38'"},
                   "strokeDash": {"signal": "datum.value == '2' ? [1.5, 2.5] : datum.value == '3' ? [5, 3] : datum.value == '4' ? [6, 2, 1.5, 2] : [1, 0]"},
                   "fill": {"value": "transparent"}}}}}},
               "strokeDash": {"field": "room", "type": "nominal", "scale": {"range": [[1, 0], [1.5, 2.5], [5, 3], [6, 2, 1.5, 2], [1, 0]]}, "legend": null}
             }},
            {"mark": {"type": "point", "filled": false, "size": 22, "strokeWidth": 1.1, "opacity": 1, "clip": true},
             "encoding": {
               "x": {"field": "alpha", "type": "quantitative", "scale": {"domain": [0, 1], "nice": false}, "axis": {"orient": "top", "labels": false, "title": null, "values": [0, 0.2, 0.4, 0.6, 0.8, 1]}},
               "y": {"field": "spl", "type": "quantitative", "scale": {"domain": [20, 80], "nice": false}, "axis": {"orient": "right", "labels": false, "title": null, "values": [20, 30, 40, 50, 60, 70, 80]}},
               "color": {"field": "room", "type": "nominal"},
               "shape": {"field": "room", "type": "nominal", "scale": {"range": ["M-1,-1L1,1M-1,1L1,-1M0,-1.3V1.3", "circle", "diamond", "square", "M-1.3,0H1.3M0,-1.3V1.3"]}, "legend": null}
             }}
          ],
          "resolve": {"axis": {"x": "independent", "y": "independent"}}
        },
        {
          "width": 211, "height": 184,
          "data": {"name": "b1k"},
          "layer": [
            {"mark": {"type": "line", "strokeWidth": 1.3, "clip": true},
             "encoding": {
               "x": {"field": "alpha", "type": "quantitative", "scale": {"domain": [0, 1], "nice": false}, "title": "Absorption Coefficient", "axis": {"values": [0, 0.2, 0.4, 0.6, 0.8, 1], "labelExpr": "datum.value == 0 ? '0' : format(datum.value, '.1f')", "labelAlign": {"condition": {"test": "datum.value == 0", "value": "left"}, "value": "right"}}},
               "y": {"field": "spl", "type": "quantitative", "scale": {"domain": [20, 80], "nice": false}, "title": "Sound Pressure Level (dB)", "axis": {"values": [20, 30, 40, 50, 60, 70, 80]}},
               "color": {"field": "room", "type": "nominal", "scale": {"domain": ["1", "2", "3", "4", "5"], "range": ["#3b4ea3", "#5cbf4f", "#d63b35", "#3cbcb4", "#8c2d8c"]},
                 "legend": {"title": ["1 kHz", "Room  Number"], "encode": {"symbols": {"update": {
                   "shape": {"signal": "datum.value == '1' ? 'M-1,0H1M-0.3,-0.3L0.3,0.3M-0.3,0.3L0.3,-0.3M0,-0.38V0.38' : datum.value == '2' ? 'M-1,0H-0.28M0.28,0H1M-0.28,0A0.28,0.28,0,1,1,0.28,0A0.28,0.28,0,1,1,-0.28,0' : datum.value == '3' ? 'M-1,0H-0.34M0.34,0H1M-0.34,0L0,-0.34L0.34,0L0,0.34Z' : datum.value == '4' ? 'M-1,0H1M-0.2,-0.2H0.2V0.2H-0.2Z' : 'M-1,0H1M0,-0.38V0.38'"},
                   "strokeDash": {"signal": "datum.value == '2' ? [1.5, 2.5] : datum.value == '3' ? [5, 3] : datum.value == '4' ? [6, 2, 1.5, 2] : [1, 0]"},
                   "fill": {"value": "transparent"}}}}}},
               "strokeDash": {"field": "room", "type": "nominal", "scale": {"range": [[1, 0], [1.5, 2.5], [5, 3], [6, 2, 1.5, 2], [1, 0]]}, "legend": null}
             }},
            {"mark": {"type": "point", "filled": false, "size": 22, "strokeWidth": 1.1, "opacity": 1, "clip": true},
             "encoding": {
               "x": {"field": "alpha", "type": "quantitative", "scale": {"domain": [0, 1], "nice": false}, "axis": {"orient": "top", "labels": false, "title": null, "values": [0, 0.2, 0.4, 0.6, 0.8, 1]}},
               "y": {"field": "spl", "type": "quantitative", "scale": {"domain": [20, 80], "nice": false}, "axis": {"orient": "right", "labels": false, "title": null, "values": [20, 30, 40, 50, 60, 70, 80]}},
               "color": {"field": "room", "type": "nominal"},
               "shape": {"field": "room", "type": "nominal", "scale": {"range": ["M-1,-1L1,1M-1,1L1,-1M0,-1.3V1.3", "circle", "diamond", "square", "M-1.3,0H1.3M0,-1.3V1.3"]}, "legend": null}
             }}
          ],
          "resolve": {"axis": {"x": "independent", "y": "independent"}}
        },
        {
          "width": 211, "height": 184,
          "data": {"name": "b2k"},
          "layer": [
            {"mark": {"type": "line", "strokeWidth": 1.3, "clip": true},
             "encoding": {
               "x": {"field": "alpha", "type": "quantitative", "scale": {"domain": [0, 1], "nice": false}, "title": "Absorption Coefficient", "axis": {"values": [0, 0.2, 0.4, 0.6, 0.8, 1], "labelExpr": "datum.value == 0 ? '0' : format(datum.value, '.1f')", "labelAlign": {"condition": {"test": "datum.value == 0", "value": "left"}, "value": "right"}}},
               "y": {"field": "spl", "type": "quantitative", "scale": {"domain": [20, 80], "nice": false}, "title": "Sound Pressure Level (dB)", "axis": {"values": [20, 30, 40, 50, 60, 70, 80]}},
               "color": {"field": "room", "type": "nominal", "scale": {"domain": ["1", "2", "3", "4", "5"], "range": ["#3b4ea3", "#5cbf4f", "#d63b35", "#3cbcb4", "#8c2d8c"]},
                 "legend": {"title": ["2 kHz", "Room  Number"], "encode": {"symbols": {"update": {
                   "shape": {"signal": "datum.value == '1' ? 'M-1,0H1M-0.3,-0.3L0.3,0.3M-0.3,0.3L0.3,-0.3M0,-0.38V0.38' : datum.value == '2' ? 'M-1,0H-0.28M0.28,0H1M-0.28,0A0.28,0.28,0,1,1,0.28,0A0.28,0.28,0,1,1,-0.28,0' : datum.value == '3' ? 'M-1,0H-0.34M0.34,0H1M-0.34,0L0,-0.34L0.34,0L0,0.34Z' : datum.value == '4' ? 'M-1,0H1M-0.2,-0.2H0.2V0.2H-0.2Z' : 'M-1,0H1M0,-0.38V0.38'"},
                   "strokeDash": {"signal": "datum.value == '2' ? [1.5, 2.5] : datum.value == '3' ? [5, 3] : datum.value == '4' ? [6, 2, 1.5, 2] : [1, 0]"},
                   "fill": {"value": "transparent"}}}}}},
               "strokeDash": {"field": "room", "type": "nominal", "scale": {"range": [[1, 0], [1.5, 2.5], [5, 3], [6, 2, 1.5, 2], [1, 0]]}, "legend": null}
             }},
            {"mark": {"type": "point", "filled": false, "size": 22, "strokeWidth": 1.1, "opacity": 1, "clip": true},
             "encoding": {
               "x": {"field": "alpha", "type": "quantitative", "scale": {"domain": [0, 1], "nice": false}, "axis": {"orient": "top", "labels": false, "title": null, "values": [0, 0.2, 0.4, 0.6, 0.8, 1]}},
               "y": {"field": "spl", "type": "quantitative", "scale": {"domain": [20, 80], "nice": false}, "axis": {"orient": "right", "labels": false, "title": null, "values": [20, 30, 40, 50, 60, 70, 80]}},
               "color": {"field": "room", "type": "nominal"},
               "shape": {"field": "room", "type": "nominal", "scale": {"range": ["M-1,-1L1,1M-1,1L1,-1M0,-1.3V1.3", "circle", "diamond", "square", "M-1.3,0H1.3M0,-1.3V1.3"]}, "legend": null}
             }}
          ],
          "resolve": {"axis": {"x": "independent", "y": "independent"}}
        }
      ],
      "spacing": 18,
      "resolve": {"scale": {"x": "independent", "y": "independent", "color": "independent", "shape": "independent", "strokeDash": "independent"}, "legend": {"color": "independent", "shape": "independent", "strokeDash": "independent"}}
    }
  ],
  "spacing": 15,
  "config": {
    "view": {"stroke": "#8a8a8a", "strokeWidth": 1},
    "axis": {
      "domain": false, "grid": false,
      "tickSize": -4, "tickColor": "#777777", "tickWidth": 0.8,
      "labelFont": "Liberation Serif", "labelFontSize": 17, "labelColor": "#1a1a1a", "labelPadding": 6,
      "titleFont": "Liberation Serif", "titleFontSize": 19, "titleFontWeight": "normal", "titleColor": "#1a1a1a"
    },
    "axisX": {"titlePadding": 1, "titleFontSize": 20},
    "axisY": {"titlePadding": 3, "titleFontSize": 19},
    "legend": {
      "orient": "bottom-left", "direction": "horizontal", "columns": 5, "offset": 7, "padding": 0,
      "labelFont": "Liberation Serif", "labelFontSize": 19, "labelColor": "#1a1a1a", "labelOffset": 2,
      "titleFont": "Liberation Serif", "titleFontSize": 19, "titleFontWeight": "normal", "titleColor": "#1a1a1a", "titleLineHeight": 19, "titlePadding": 1,
      "symbolSize": 250, "symbolStrokeWidth": 1.4, "columnPadding": 4
    },
    "title": {"font": "Liberation Serif", "fontSize": 24, "fontWeight": "normal", "color": "#1a1a1a"}
  }
}
